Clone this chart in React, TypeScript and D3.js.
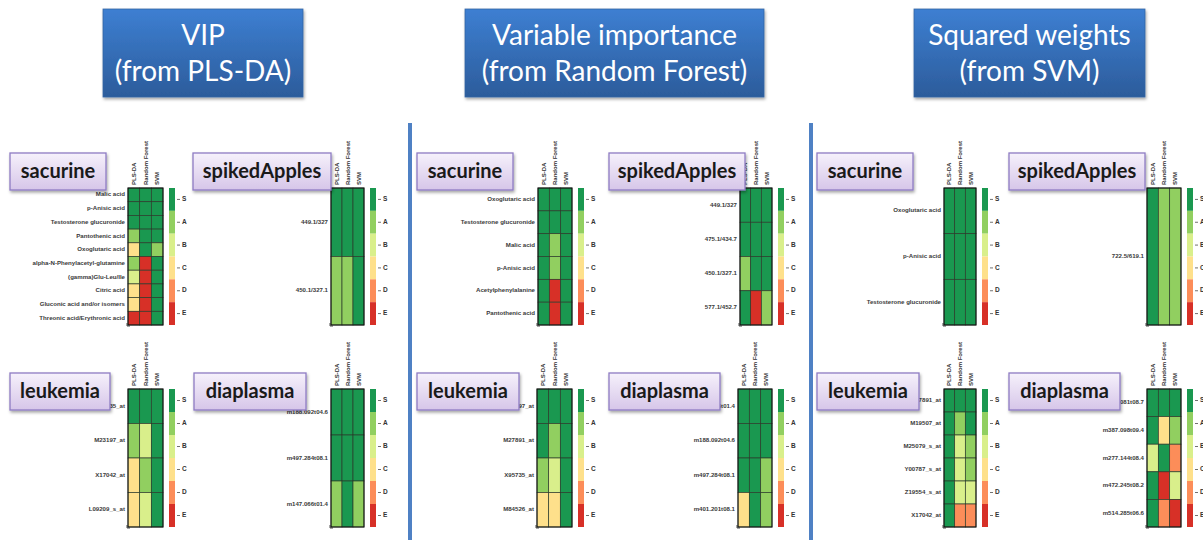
import React from "react";
import * as d3 from "d3";

// ---------- data ----------
const methods = ["PLS-DA", "Random Forest", "SVM"];
const grades = ["S", "A", "B", "C", "D", "E"];
const gradeColors = ["#1a9850", "#91cf60", "#d9ef8b", "#fee08b", "#fc8d59", "#d73027"];

const titleLines = [
  ["VIP", "(from PLS-DA)"],
  ["Variable importance", "(from Random Forest)"],
  ["Squared weights", "(from SVM)"],
];
const datasetNames = ["sacurine", "spikedApples", "leukemia", "diaplasma"];

// VIP (PLS-DA) column
const vipSacurineFeatures = ["Malic acid", "p-Anisic acid", "Testosterone glucuronide", "Pantothenic acid", "Oxoglutaric acid", "alpha-N-Phenylacetyl-glutamine", "(gamma)Glu-Leu/Ile", "Citric acid", "Gluconic acid and/or isomers", "Threonic acid/Erythronic acid"];
const vipSacurineGrades = ["SSS", "SSS", "SSS", "ASS", "CSA", "AES", "BES", "CES", "CES", "EES"];
const vipApplesFeatures = ["449.1/327", "450.1/327.1"];
const vipApplesGrades = ["SSS", "AAS"];
const vipLeukemiaFeatures = ["X95735_at", "M23197_at", "X17042_at", "L09209_s_at"];
const vipLeukemiaGrades = ["SSS", "ABS", "CAS", "CBS"];
const vipDiaplasmaFeatures = ["m188.092t04.6", "m497.284t08.1", "m147.066t01.4"];
const vipDiaplasmaGrades = ["SSS", "SSS", "ASA"];

// Random Forest column
const rfSacurineFeatures = ["Oxoglutaric acid", "Testosterone glucuronide", "Malic acid", "p-Anisic acid", "Acetylphenylalanine", "Pantothenic acid"];
const rfSacurineGrades = ["SSS", "SSS", "SAS", "SAS", "SES", "SES"];
const rfApplesFeatures = ["449.1/327", "475.1/434.7", "450.1/327.1", "577.1/452.7"];
const rfApplesGrades = ["SSS", "SSS", "ASS", "SEA"];
const rfLeukemiaFeatures = ["M23197_at", "M27891_at", "X95735_at", "M84526_at"];
const rfLeukemiaGrades = ["SSS", "SAS", "ABS", "CCS"];
const rfDiaplasmaFeatures = ["m147.066t01.4", "m188.092t04.6", "m497.284t08.1", "m401.201t08.1"];
const rfDiaplasmaGrades = ["SSS", "SSS", "SSA", "CSA"];

// SVM column
const svmSacurineFeatures = ["Oxoglutaric acid", "p-Anisic acid", "Testosterone glucuronide"];
const svmSacurineGrades = ["SSS", "SSS", "SSS"];
const svmApplesFeatures = ["722.5/619.1"];
const svmApplesGrades = ["SAA"];
const svmLeukemiaFeatures = ["M27891_at", "M19507_at", "M25079_s_at", "Y00787_s_at", "Z19554_s_at", "X17042_at"];
const svmLeukemiaGrades = ["SSS", "SAS", "SBA", "SBA", "SBB", "SDD"];
const svmDiaplasmaFeatures = ["m203.081t08.7", "m387.098t09.4", "m277.144t08.4", "m472.245t08.2", "m514.285t06.6"];
const svmDiaplasmaGrades = ["SSS", "SCA", "BSD", "SEB", "SDE"];

// ---------- layout ----------
const W = 1203, H = 540;
const titleBoxes = [
  { x: 103, w: 200 },
  { x: 465, w: 299 },
  { x: 914, w: 231 },
];
const separators = [410, 811];
const rowY = [
  { box: 153, hmTop: 188, hmBottom: 325 },
  { box: 373, hmTop: 389, hmBottom: 527 },
];

type Panel = {
  col: number; row: number; name: string;
  boxX: number; boxW: number; hmX: number; hmW: number;
  features: string[]; values: string[];
};

const panels: Panel[] = [
  { col: 0, row: 0, name: datasetNames[0], boxX: 10, boxW: 96, hmX: 128, hmW: 35, features: vipSacurineFeatures, values: vipSacurineGrades },
  { col: 0, row: 0, name: datasetNames[1], boxX: 193, boxW: 138, hmX: 331, hmW: 33, features: vipApplesFeatures, values: vipApplesGrades },
  { col: 0, row: 1, name: datasetNames[2], boxX: 10, boxW: 100, hmX: 128, hmW: 35, features: vipLeukemiaFeatures, values: vipLeukemiaGrades },
  { col: 0, row: 1, name: datasetNames[3], boxX: 194, boxW: 112, hmX: 331, hmW: 33, features: vipDiaplasmaFeatures, values: vipDiaplasmaGrades },
  { col: 1, row: 0, name: datasetNames[0], boxX: 417, boxW: 96, hmX: 538, hmW: 34, features: rfSacurineFeatures, values: rfSacurineGrades },
  { col: 1, row: 0, name: datasetNames[1], boxX: 609, boxW: 136, hmX: 740, hmW: 32, features: rfApplesFeatures, values: rfApplesGrades },
  { col: 1, row: 1, name: datasetNames[2], boxX: 417, boxW: 102, hmX: 537, hmW: 35, features: rfLeukemiaFeatures, values: rfLeukemiaGrades },
  { col: 1, row: 1, name: datasetNames[3], boxX: 609, boxW: 111, hmX: 738, hmW: 34, features: rfDiaplasmaFeatures, values: rfDiaplasmaGrades },
  { col: 2, row: 0, name: datasetNames[0], boxX: 817, boxW: 96, hmX: 944, hmW: 32, features: svmSacurineFeatures, values: svmSacurineGrades },
  { col: 2, row: 0, name: datasetNames[1], boxX: 1009, boxW: 136, hmX: 1147, hmW: 34, features: svmApplesFeatures, values: svmApplesGrades },
  { col: 2, row: 1, name: datasetNames[2], boxX: 817, boxW: 102, hmX: 944, hmW: 32, features: svmLeukemiaFeatures, values: svmLeukemiaGrades },
  { col: 2, row: 1, name: datasetNames[3], boxX: 1009, boxW: 111, hmX: 1147, hmW: 34, features: svmDiaplasmaFeatures, values: svmDiaplasmaGrades },
];

const colorScale = d3.scaleOrdinal<string, string>().domain(grades).range(gradeColors);
const smallFont = "'Liberation Sans', Arial, sans-serif";

function Heatmap({ p }: { p: Panel }) {
  const ry = rowY[p.row];
  const x = d3.scaleBand<string>().domain(methods).range([p.hmX, p.hmX + p.hmW]);
  const y = d3.scaleBand<string>().domain(p.features).range([ry.hmTop, ry.hmBottom]);
  const cb = d3.scaleBand<string>().domain(grades).range([ry.hmTop, ry.hmBottom]);
  const cbX = p.hmX + p.hmW + 6;
  const cbW = 6;
  return (
    <g>
      {/* row labels */}
      {p.features.map((f) => (
        <text key={"l" + f} x={p.hmX - 3} y={(y(f) ?? 0) + y.bandwidth() / 2} textAnchor="end" dominantBaseline="middle"
          fontFamily={smallFont} fontSize={6.1} fontWeight="bold" fill="#3a3a3a">{f}</text>
      ))}
      {/* column labels */}
      {methods.map((m) => {
        const cx = (x(m) ?? 0) + x.bandwidth() / 2;
        const cy = ry.hmTop - 3;
        return (
          <text key={"c" + m} transform={`translate(${cx + 2},${cy}) rotate(-90)`} textAnchor="start"
            fontFamily={smallFont} fontSize={6} fontWeight="bold" fill="#333">{m}</text>
        );
      })}
      {/* cells */}
      {p.features.map((f, i) =>
        methods.map((m, j) => (
          <rect key={f + m} x={x(m)} y={y(f)} width={x.bandwidth()} height={y.bandwidth()}
            fill={colorScale(p.values[i][j])} stroke="#2b3b2b" strokeWidth={0.7} />
        ))
      )}
      <rect x={p.hmX} y={ry.hmTop} width={p.hmW} height={ry.hmBottom - ry.hmTop} fill="none" stroke="#111" strokeWidth={1} />
      <path d={`M${p.hmX - 1},${ry.hmBottom - 2} L${p.hmX - 1},${ry.hmBottom + 1} L${p.hmX + 2},${ry.hmBottom + 1}`} stroke="#222" fill="none" strokeWidth={0.8} />
      {/* colour key */}
      {grades.map((g) => (
        <g key={"k" + g}>
          <rect x={cbX} y={cb(g)} width={cbW} height={cb.bandwidth()} fill={colorScale(g)} />
          <line x1={cbX + cbW + 2} x2={cbX + cbW + 5} y1={(cb(g) ?? 0) + cb.bandwidth() / 2} y2={(cb(g) ?? 0) + cb.bandwidth() / 2} stroke="#333" strokeWidth={0.7} />
          <text x={cbX + cbW + 7} y={(cb(g) ?? 0) + cb.bandwidth() / 2} dominantBaseline="middle"
            fontFamily={smallFont} fontSize={6.5} fontWeight="bold" fill="#333">{g}</text>
        </g>
      ))}
    </g>
  );
}

function NameBox({ p }: { p: Panel }) {
  const ry = rowY[p.row];
  const h = 37;
  return (
    <g>
      <rect x={p.boxX} y={ry.box} width={p.boxW} height={h} fill="url(#nameGrad)" stroke="#8e7cc3" strokeWidth={1.3} filter="url(#shadow)" />
      <text x={p.boxX + p.boxW / 2} y={ry.box + h / 2 + 1} textAnchor="middle" dominantBaseline="middle"
        fontFamily="Lato, 'Open Sans', sans-serif" fontWeight="bold" fontSize={20} fill="#1a1a1a">{p.name}</text>
    </g>
  );
}

export default function App() {
  return (
    <svg width={W} height={H} viewBox={`0 0 ${W} ${H}`} style={{ position: "absolute", left: 0, top: 0, background: "#fff" }}>
      <defs>
        <linearGradient id="titleGrad" x1="0" y1="0" x2="0" y2="1">
          <stop offset="0" stopColor="#3d7fd2" />
          <stop offset="1" stopColor="#2c5c9b" />
        </linearGradient>
        <linearGradient id="nameGrad" x1="0" y1="0" x2="0" y2="1">
          <stop offset="0" stopColor="#f6f1fb" />
          <stop offset="1" stopColor="#d6c6e9" />
        </linearGradient>
        <filter id="shadow" x="-10%" y="-10%" width="130%" height="150%">
          <feDropShadow dx="1" dy="2" stdDeviation="1.5" floodColor="#000" floodOpacity="0.35" />
        </filter>
      </defs>

      {titleBoxes.map((b, i) => (
        <g key={"t" + i}>
          <rect x={b.x} y={9} width={b.w} height={88} fill="url(#titleGrad)" stroke="#3465a4" strokeWidth={0.8} filter="url(#shadow)" />
          {titleLines[i].map((line, k) => (
            <text key={k} x={b.x + b.w / 2} y={45 + k * 36} textAnchor="middle"
              fontFamily="Lato, 'Open Sans', sans-serif" fontSize={28} fill="#fff">{line}</text>
          ))}
        </g>
      ))}

      {separators.map((sx) => (
        <rect key={"s" + sx} x={sx - 2} y={123} width={4} height={H - 123} fill="#4f81c4" />
      ))}

      {panels.map((p, i) => <Heatmap key={"h" + i} p={p} />)}
      {panels.map((p, i) => <NameBox key={"n" + i} p={p} />)}
    </svg>
  );
}
